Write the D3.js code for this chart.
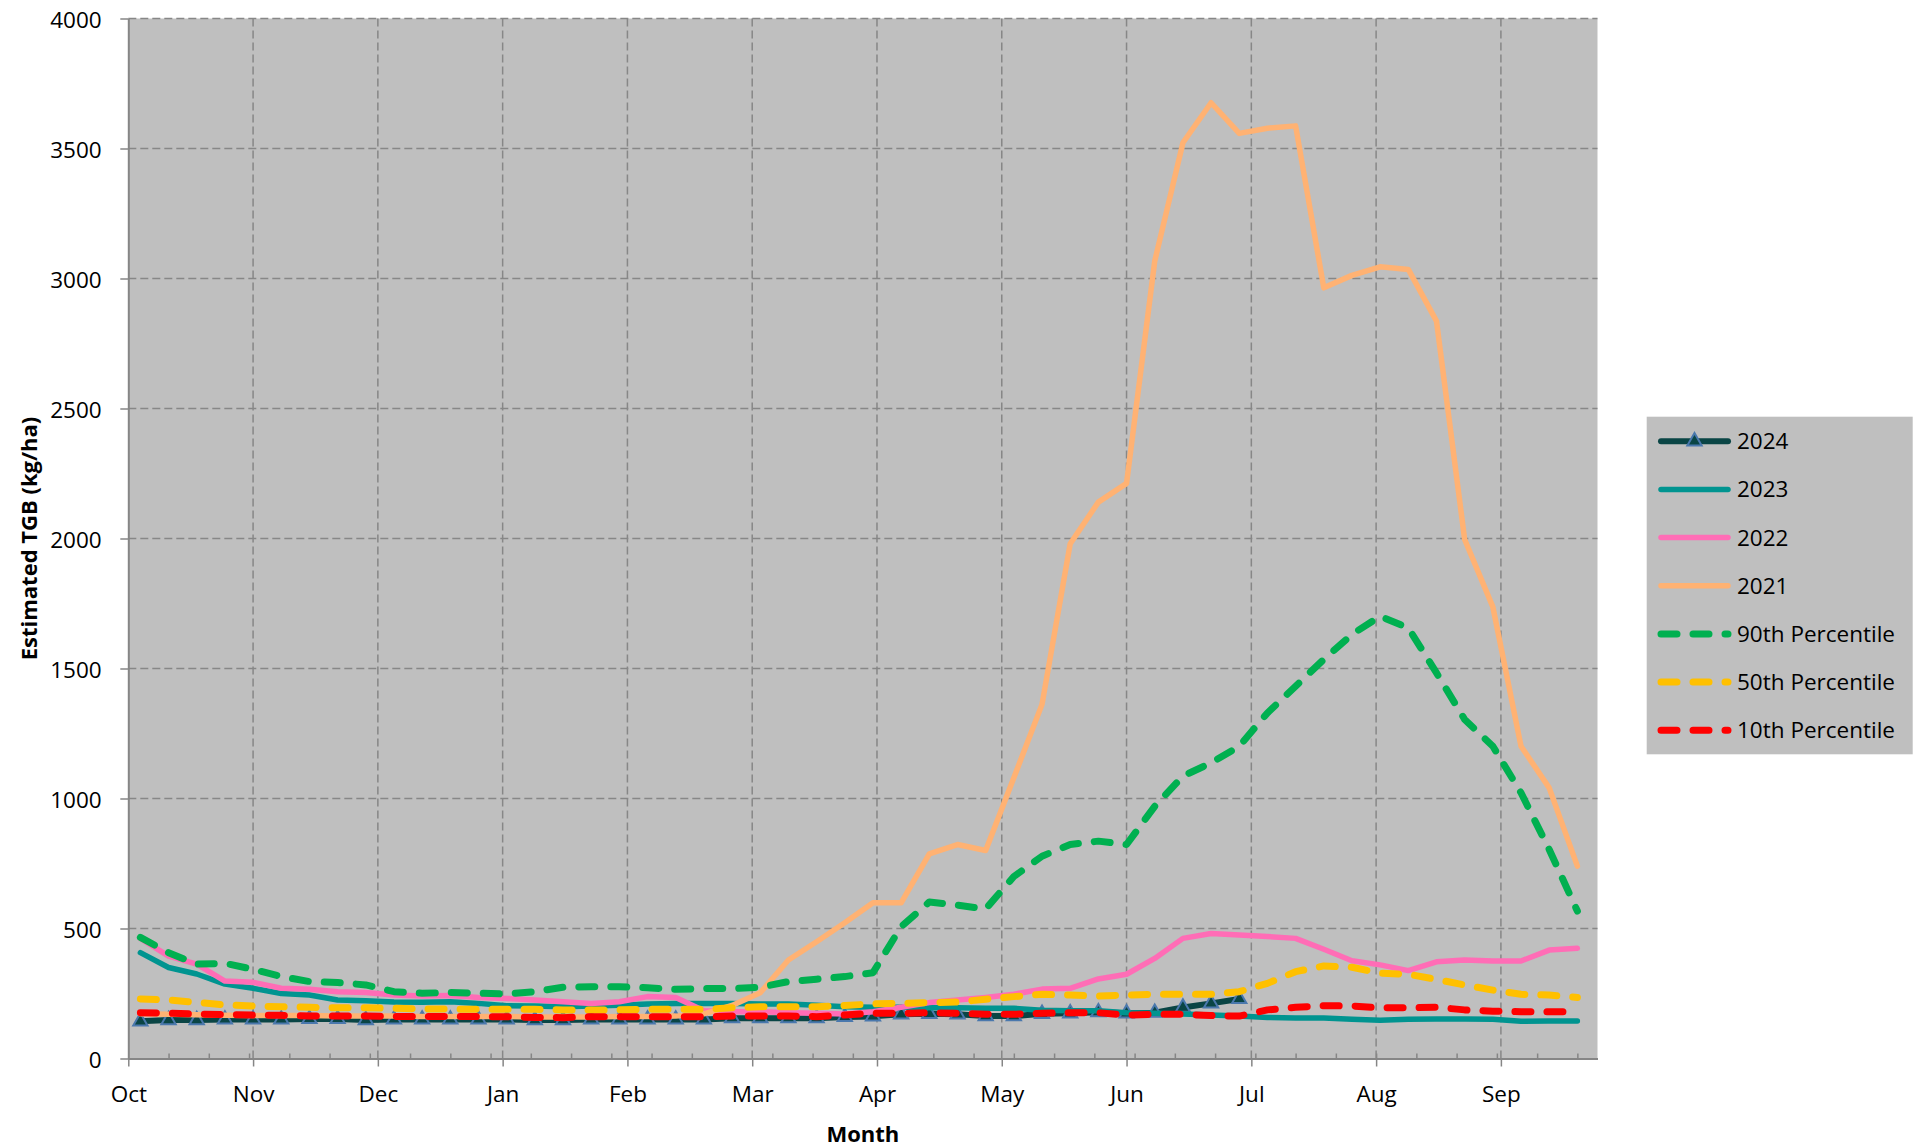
<!DOCTYPE html>
<html><head><meta charset="utf-8">
<script src="https://cdn.jsdelivr.net/npm/d3@7"></script>
<style>
body{margin:0;background:#fff}
svg{display:block}
text{font-family:'Open Sans',sans-serif;fill:#000}
</style>
</head><body>
<svg id="c" width="1919" height="1147"></svg>
<script>
// ---- data ----
const days = [3,10,17,24,31,38,45,52,59,66,73,80,87,94,101,108,115,122,129,136,143,150,157,164,171,178,185,192,199,206,213,220,227,234,241,248,255,262,269,276,283,290,297,304,311,318,325,332,339,346,353,360];
const monthTicks = [0,31,62,93,124,155,186,217,248,279,310,341];
const monthLabels = ['Oct','Nov','Dec','Jan','Feb','Mar','Apr','May','Jun','Jul','Aug','Sep'];
const yTicks = [0,500,1000,1500,2000,2500,3000,3500,4000];

const s2024 = [143,148,148,150,150,150,152,152,148,150,150,150,150,150,148,148,150,150,150,150,150,155,155,155,155,160,162,170,172,170,163,163,172,174,178,174,176,196,212,229];
const s2023 = [407,350,325,286,270,250,244,225,222,217,216,218,212,203,202,199,202,205,210,212,212,212,210,210,205,199,197,197,195,195,193,193,186,184,184,176,174,171,167,163,158,156,156,151,147,151,152,152,151,143,144,144];
const s2022 = [462,394,363,298,293,270,266,257,254,244,240,242,235,231,225,218,212,218,238,235,184,180,180,176,174,171,180,197,215,225,235,247,267,270,306,324,385,462,481,475,469,462,420,376,360,338,372,379,375,375,417,424];
const s2021 = [172,170,168,166,165,165,165,163,163,163,162,162,162,162,160,160,160,162,162,163,172,204,253,379,449,522,599,599,787,823,800,1080,1362,1980,2140,2212,3067,3522,3676,3558,3578,3587,2964,3012,3045,3035,2836,1996,1737,1201,1041,740];
const p90 = [466,407,363,366,343,315,296,292,283,257,251,254,251,248,257,274,276,276,272,266,269,269,274,296,305,315,330,507,602,590,575,700,778,823,836,823,970,1086,1137,1201,1329,1432,1535,1631,1701,1656,1483,1304,1201,1022,804,567];
const p50 = [229,225,216,206,202,199,197,195,195,193,191,190,189,189,189,187,187,187,189,189,189,195,199,199,199,204,210,212,215,217,228,238,247,244,240,244,247,247,247,257,289,334,356,351,328,324,304,283,263,247,244,235];
const p10 = [176,174,171,169,167,166,163,163,163,162,161,162,161,161,158,157,161,161,161,161,161,163,163,163,161,167,174,174,176,174,170,170,174,176,176,167,170,170,165,163,187,197,203,202,195,195,197,187,182,180,180,180];

const seriesNames = ['2024','2023','2022','2021','90th Percentile','50th Percentile','10th Percentile'];
const seriesData = [s2024,s2023,s2022,s2021,p90,p50,p10];

// ---- styles ----
const styles = [
  {color:'#0a4545', width:6, dash:null, marker:true},
  {color:'#009490', width:5.5, dash:null},
  {color:'#ff6db6', width:5.5, dash:null},
  {color:'#ffb273', width:5.5, dash:null},
  {color:'#00b050', width:7, dash:'16 16'},
  {color:'#ffc000', width:7, dash:'16 16'},
  {color:'#ff0000', width:7, dash:'16 16'}
];

const svg = d3.select('#c');
const L = 128.3, R = 1597.5, T = 18.5, B = 1058.5;
const x = d3.scaleLinear().domain([0,365]).range([L,R]);
const y = d3.scaleLinear().domain([0,4000]).range([B,T]);
const gridColor = '#878787', axisColor = '#868686';

// plot background
svg.append('rect').attr('x',L).attr('y',T).attr('width',R-L).attr('height',B-T).attr('fill','#bfbfbf');

// gridlines
svg.append('g').selectAll('line').data(yTicks.filter(v=>v>0)).join('line')
  .attr('x1',L).attr('x2',R).attr('y1',d=>y(d)).attr('y2',d=>y(d))
  .attr('stroke',gridColor).attr('stroke-width',1.5).attr('stroke-dasharray','8 4');
svg.append('g').selectAll('line').data(monthTicks.filter(v=>v>0)).join('line')
  .attr('x1',d=>x(d)).attr('x2',d=>x(d)).attr('y1',T).attr('y2',B)
  .attr('stroke',gridColor).attr('stroke-width',1.5).attr('stroke-dasharray','8 4');

// y axis
const yAxis = svg.append('g').attr('transform',`translate(${L},0)`)
  .call(d3.axisLeft(y).tickValues(yTicks).tickSizeInner(8).tickSizeOuter(0).tickPadding(18.6).tickFormat(d3.format('d')));
yAxis.select('.domain').attr('stroke',axisColor).attr('stroke-width',2);
yAxis.selectAll('.tick line').attr('stroke',axisColor).attr('stroke-width',1.5);
yAxis.selectAll('.tick text').attr('font-size','22.5px').attr('font-family',"'Open Sans',sans-serif").attr('dy','0.4em').attr('fill','#000');

// x axis minor ticks (inside)
const xMinor = svg.append('g').attr('transform',`translate(0,${B})`)
  .call(d3.axisBottom(x).tickValues(d3.range(10,361,10)).tickSizeInner(-5).tickSizeOuter(0).tickFormat(''));
xMinor.select('.domain').remove();
xMinor.selectAll('.tick line').attr('stroke',axisColor).attr('stroke-width',1.5);

// x axis
const xAxis = svg.append('g').attr('transform',`translate(0,${B})`)
  .call(d3.axisBottom(x).tickValues(monthTicks).tickSizeInner(8).tickSizeOuter(0).tickFormat((d,i)=>monthLabels[i]));
xAxis.select('.domain').attr('stroke',axisColor).attr('stroke-width',2);
xAxis.selectAll('.tick line').attr('stroke',axisColor).attr('stroke-width',1.5);
xAxis.selectAll('.tick text').attr('font-size','22.5px').attr('font-family',"'Open Sans',sans-serif")
  .attr('y',43.2).attr('dy',0).attr('fill','#000');

// axis titles
svg.append('text').attr('transform','translate(36.5,538.5) rotate(-90)').attr('text-anchor','middle')
  .attr('font-size','22px').attr('font-weight','bold').text('Estimated TGB (kg/ha)');
svg.append('text').attr('x',(L+R)/2).attr('y',1141.7).attr('text-anchor','middle')
  .attr('font-size','22px').attr('font-weight','bold').text('Month');

// series lines
const line = d3.line().x((d,i)=>x(days[i])).y(d=>y(d)).curve(d3.curveLinear);
const tri = d3.symbol().type(d3.symbolTriangle).size(88);
seriesData.forEach((data,k)=>{
  const st = styles[k];
  const g = svg.append('g');
  g.append('path').datum(data).attr('d',line).attr('fill','none')
    .attr('stroke',st.color).attr('stroke-width',st.width)
    .attr('stroke-linejoin','round').attr('stroke-linecap','round')
    .attr('stroke-dasharray',st.dash);
  if(st.marker){
    g.selectAll('path.m').data(data).join('path').attr('class','m')
      .attr('d',tri).attr('transform',(d,i)=>`translate(${x(days[i])},${y(d)})`)
      .attr('fill',st.color).attr('stroke','#4a78ad').attr('stroke-width',2);
  }
});

// legend
const lg = svg.append('g');
lg.append('rect').attr('x',1646.7).attr('y',416.7).attr('width',266).attr('height',337.6).attr('fill','#bfbfbf');
const ly0 = 441.3, lstep = 48.15;
seriesNames.forEach((name,k)=>{
  const st = styles[k];
  const yy = ly0 + k*lstep;
  lg.append('line').attr('x1',1661).attr('x2',1728).attr('y1',yy).attr('y2',yy)
    .attr('stroke',st.color).attr('stroke-width',st.width)
    .attr('stroke-linecap','round').attr('stroke-dasharray',st.dash);
  if(st.marker){
    lg.append('path').attr('d',tri).attr('transform',`translate(1694.5,${yy})`)
      .attr('fill',st.color).attr('stroke','#4a78ad').attr('stroke-width',2);
  }
  lg.append('text').attr('x',1737).attr('y',yy+8).attr('font-size','22.5px').text(name);
});
</script>
</body></html>
